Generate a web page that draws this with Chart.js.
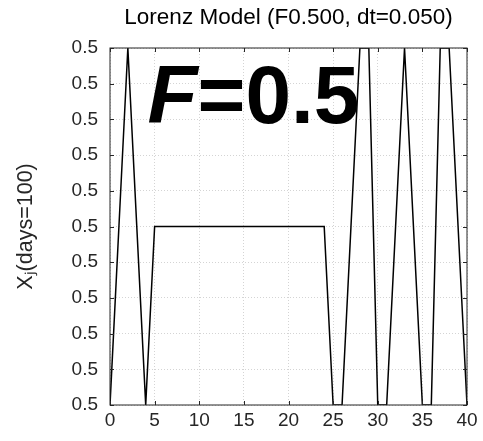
<!DOCTYPE html>
<html>
<head>
<meta charset="utf-8">
<script src="https://cdn.jsdelivr.net/npm/chart.js@4/dist/chart.umd.min.js"></script>
<style>
  html, body { margin: 0; padding: 0; background: #fff; }
  #wrap { position: relative; width: 483px; height: 441px; }
</style>
</head>
<body>
<div id="wrap"><canvas id="lorenzChart"></canvas></div>
<script>
"use strict";

// Lorenz 96, F=0.5 : X_j at day 100 (all values sit at the fixed point 0.5)
const J_INDEX = [0, 1, 2, 3, 4, 5, 6, 7, 8, 9, 10, 11, 12, 13, 14, 15, 16, 17, 18, 19, 20,
  21, 22, 23, 24, 25, 26, 27, 28, 29, 30, 31, 32, 33, 34, 35, 36, 37, 38, 39, 40];
const X_DAY100 = [
  0.499995, 0.5, 0.500005, 0.5, 0.499995, 0.5, 0.5, 0.5, 0.5, 0.5, 0.5,
  0.5, 0.5, 0.5, 0.5, 0.5, 0.5, 0.5, 0.5, 0.5, 0.5,
  0.5, 0.5, 0.5, 0.5, 0.499995, 0.499995, 0.5, 0.500005, 0.500005, 0.499995,
  0.499995, 0.5, 0.500005, 0.5, 0.499995, 0.499995, 0.500005, 0.500005, 0.5, 0.499995,
];
const X_TICKS = [0, 5, 10, 15, 20, 25, 30, 35, 40];
const Y_MIN = 0.499995;
const Y_MAX = 0.500005;
const Y_STEP = 0.000001;

const TITLE = "Lorenz Model (F0.500, dt=0.050)";
const Y_LABEL = "X\u2C7C(days=100)";
const BIG_LABEL = ["F", "=0.5"];
const BIG_AT = { x: 4.2, y: 0.5000029 };

const AXIS_COLOR = "#262626";
const FONT = "'Liberation Sans', Arial, Helvetica, sans-serif";

// octave-style box with little inward ticks on all four sides
const boxPlugin = {
  id: "box",
  afterDraw(chart) {
    const { ctx, chartArea: a, scales } = chart;
    ctx.save();
    ctx.strokeStyle = AXIS_COLOR;
    ctx.lineWidth = 1;
    ctx.strokeRect(a.left, a.top, a.right - a.left, a.bottom - a.top);
    const len = 4;
    ctx.beginPath();
    scales.x.ticks.forEach(t => {
      const px = Math.round(scales.x.getPixelForValue(t.value)) + 0.5;
      ctx.moveTo(px, a.bottom); ctx.lineTo(px, a.bottom - len);
      ctx.moveTo(px, a.top); ctx.lineTo(px, a.top + len);
    });
    scales.y.ticks.forEach(t => {
      const py = Math.round(scales.y.getPixelForValue(t.value)) + 0.5;
      ctx.moveTo(a.left, py); ctx.lineTo(a.left + len, py);
      ctx.moveTo(a.right, py); ctx.lineTo(a.right - len, py);
    });
    ctx.stroke();
    ctx.restore();
  },
};

const bigTextPlugin = {
  id: "bigText",
  afterDraw(chart) {
    const { ctx, scales } = chart;
    const x = scales.x.getPixelForValue(BIG_AT.x);
    const y = scales.y.getPixelForValue(BIG_AT.y);
    ctx.save();
    ctx.fillStyle = "#000";
    ctx.textBaseline = "alphabetic";
    ctx.textAlign = "left";
    ctx.font = "italic bold 82px " + FONT;
    ctx.fillText(BIG_LABEL[0], x, y);
    const w = ctx.measureText(BIG_LABEL[0]).width;
    ctx.font = "bold 82px " + FONT;
    ctx.fillText(BIG_LABEL[1], x + w, y);
    ctx.restore();
  },
};

function main() {
  const points = J_INDEX.map((j, i) => ({ x: j, y: X_DAY100[i] }));
  new Chart(document.getElementById("lorenzChart"), {
    type: "line",
    data: {
      datasets: [{
        data: points,
        borderColor: "#000",
        borderWidth: 1.5,
        pointRadius: 0,
        tension: 0,
        fill: false,
      }],
    },
    options: {
      responsive: true,
      maintainAspectRatio: false,
      animation: false,
      layout: { padding: { left: 0, right: 16, top: 0, bottom: 0 } },
      plugins: {
        legend: { display: false },
        tooltip: { enabled: false },
        title: {
          display: true,
          text: TITLE,
          fullSize: false,
          color: "#000",
          font: { family: FONT, size: 22.5, weight: "normal" },
          padding: { top: 4, bottom: 17 },
        },
      },
      scales: {
        x: {
          type: "linear",
          min: 0,
          max: 40,
          afterBuildTicks: s => { s.ticks = X_TICKS.map(v => ({ value: v })); },
          afterFit: s => { s.height = 36; },
          grid: { color: "#d4d4d4", drawTicks: false },
          border: { display: false, dash: [1, 2] },
          ticks: {
            color: AXIS_COLOR,
            padding: 4,
            maxRotation: 0,
            font: { family: FONT, size: 19 },
          },
        },
        y: {
          type: "linear",
          min: Y_MIN,
          max: Y_MAX,
          afterFit: s => { s.width = 110; },
          grid: { color: "#d4d4d4", drawTicks: false },
          border: { display: false, dash: [1, 2] },
          ticks: {
            stepSize: Y_STEP,
            color: AXIS_COLOR,
            padding: 12,
            font: { family: FONT, size: 19 },
            callback: v => Number(v).toFixed(1),
          },
          title: {
            display: true,
            text: Y_LABEL,
            color: AXIS_COLOR,
            font: { family: FONT, size: 21.5 },
            padding: { top: 13, bottom: 0 },
          },
        },
      },
    },
    plugins: [boxPlugin, bigTextPlugin],
  });
}

main();
</script>
</body>
</html>
